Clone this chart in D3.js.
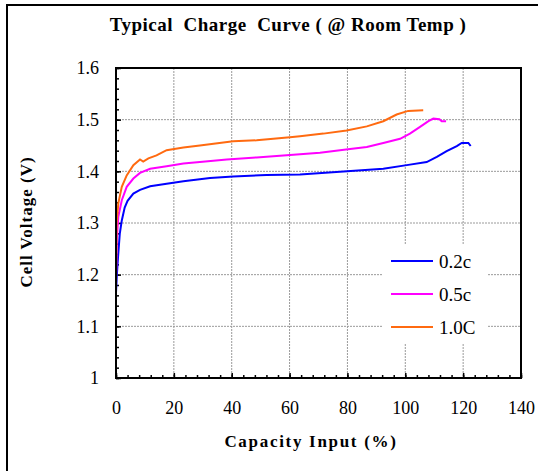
<!DOCTYPE html>
<html>
<head>
<meta charset="utf-8">
<script src="https://cdn.jsdelivr.net/npm/d3@7"></script>
<style>
  body { margin: 0; background: #fff; }
  svg text { font-family: "Liberation Serif", "Times New Roman", serif !important; fill: #000; }
  .axis path { display: none; }
  .axis line { stroke: #000; stroke-width: 1.5; }
  .grid line { stroke: #9a9a9a; stroke-width: 1; stroke-dasharray: 2,1; }
</style>
</head>
<body>
<div class="chart"></div>
<script>
// DATA ------------------------------
const seriesNames = ["0.2c", "0.5c", "1.0C"];
const seriesColors = ["#0000ff", "#ff00ff", "#ff6a10"];

const cap02 = [0, 0.3, 0.7, 1.3, 2, 3, 4, 6, 8.3, 11.8, 17.5, 23.3, 32.5, 40.5, 52, 63.6, 77.4, 92.4, 100.5, 107.4, 110.9, 114.3, 117.8, 119.5, 121.8, 122.6];
const volt02 = [1.165, 1.2, 1.234, 1.279, 1.305, 1.33, 1.343, 1.357, 1.364, 1.371, 1.376, 1.381, 1.387, 1.39, 1.393, 1.394, 1.399, 1.405, 1.412, 1.418, 1.428, 1.439, 1.449, 1.455, 1.455, 1.449];

const cap05 = [0, 0.3, 0.8, 2, 3.7, 6, 8.3, 11.8, 17.5, 23.3, 29, 38.3, 48.6, 56.7, 63.6, 70.5, 80.9, 86.7, 92.4, 98.2, 101.6, 105.1, 108, 109.7, 111.8, 112.6, 114.1];
const volt05 = [1.2, 1.27, 1.312, 1.344, 1.37, 1.386, 1.397, 1.405, 1.41, 1.415, 1.418, 1.423, 1.427, 1.43, 1.433, 1.436, 1.443, 1.447, 1.455, 1.463, 1.473, 1.486, 1.497, 1.502, 1.501, 1.497, 1.497];

const cap10 = [0, 0.2, 0.8, 2, 3.7, 6, 8.3, 9.4, 11.2, 14, 17.5, 23.3, 29, 40.5, 48.6, 54.4, 60.1, 63.6, 71.7, 79.7, 86.7, 92.4, 97, 101, 106.2];
const volt10 = [1.175, 1.3, 1.338, 1.37, 1.392, 1.412, 1.423, 1.419, 1.425, 1.431, 1.441, 1.446, 1.45, 1.458, 1.46, 1.463, 1.466, 1.468, 1.473, 1.479, 1.487, 1.497, 1.51, 1.517, 1.518];

const xTicks = [0, 20, 40, 60, 80, 100, 120, 140];
const yTicks = [1, 1.1, 1.2, 1.3, 1.4, 1.5, 1.6];
const yTickLabels = ["1", "1.1", "1.2", "1.3", "1.4", "1.5", "1.6"];

// CHART INIT ------------------------------
const W = 538, H = 471;
const margin = ({top: 68, right: 17, bottom: 93, left: 116});
const width = W - margin.left - margin.right,
    height = H - margin.top - margin.bottom;
const serif = '"Liberation Serif", "Times New Roman", serif';

const root = d3.select(".chart")
    .append("svg")
    .attr("width", W)
    .attr("height", H)
    .attr("font-family", serif);

// outer frame (cut off on the right and bottom)
root.append("rect")
    .attr("x", 7).attr("y", 5)
    .attr("width", 700).attr("height", 700)
    .attr("fill", "none")
    .attr("stroke", "#000")
    .attr("stroke-width", 2);

root.append("text")
    .attr("x", 288)
    .attr("y", 31)
    .attr("text-anchor", "middle")
    .style("font-size", "19px")
    .style("font-weight", "bold")
    .style("white-space", "pre")
    .style("letter-spacing", "0.5px")
    .text("Typical  Charge  Curve ( @ Room Temp )");

const svg = root.append("g")
    .attr("transform", "translate(" + margin.left + "," + margin.top + ")");

const xScale = d3.scaleLinear().domain([0, 140]).range([0, width]);
const yScale = d3.scaleLinear().domain([1, 1.6]).range([height, 0]);

// gridlines
svg.append("g")
    .attr("class", "grid")
    .selectAll("line")
    .data(xTicks.slice(1, -1))
    .join("line")
    .attr("x1", d => xScale(d)).attr("x2", d => xScale(d))
    .attr("y1", 0).attr("y2", height);

svg.append("g")
    .attr("class", "grid")
    .selectAll("line")
    .data(yTicks.slice(1, -1))
    .join("line")
    .attr("x1", 0).attr("x2", width)
    .attr("y1", d => yScale(d)).attr("y2", d => yScale(d));

// minor ticks
const xMinor = d3.range(0, 141, 4);
const yMinor = d3.range(0, 31).map(i => 1 + i * 0.02);

svg.append("g")
    .attr("class", "axis")
    .attr("transform", "translate(0," + height + ")")
    .call(d3.axisBottom(xScale).tickValues(xMinor).tickSize(-3).tickFormat(""));

svg.append("g")
    .attr("class", "axis")
    .call(d3.axisLeft(yScale).tickValues(yMinor).tickSize(-3).tickFormat(""));

// major axes
svg.append("g")
    .attr("class", "axis x-axis")
    .attr("transform", "translate(0," + height + ")")
    .call(d3.axisBottom(xScale).tickValues(xTicks).tickSize(-5).tickPadding(23))
    .attr("font-family", serif)
    .selectAll("text")
    .style("font-size", "18px");

svg.append("g")
    .attr("class", "axis y-axis")
    .call(d3.axisLeft(yScale).tickValues(yTicks).tickSize(-5).tickPadding(17)
        .tickFormat((d, i) => yTickLabels[i]))
    .attr("font-family", serif)
    .selectAll("text")
    .style("font-size", "18px");

// curves
const series = [
    {name: seriesNames[0], color: seriesColors[0], x: cap02, y: volt02},
    {name: seriesNames[1], color: seriesColors[1], x: cap05, y: volt05},
    {name: seriesNames[2], color: seriesColors[2], x: cap10, y: volt10}
];

const line = d3.line()
    .x(d => xScale(d[0]))
    .y(d => yScale(d[1]));

svg.selectAll(".curve")
    .data(series)
    .join("path")
    .attr("class", "curve")
    .attr("fill", "none")
    .attr("stroke", d => d.color)
    .attr("stroke-width", 2)
    .attr("d", d => line(d.x.map((v, i) => [v, d.y[i]])));

// plot frame
svg.append("rect")
    .attr("width", width)
    .attr("height", height)
    .attr("fill", "none")
    .attr("stroke", "#000")
    .attr("stroke-width", 2);

// legend
const legend = root.append("g")
    .attr("transform", "translate(383,245)");

legend.append("rect")
    .attr("width", 104)
    .attr("height", 98)
    .attr("fill", "#fff");

const items = legend.selectAll(".item")
    .data(series)
    .join("g")
    .attr("class", "item")
    .attr("transform", (d, i) => "translate(0," + (16 + i * 33) + ")");

items.append("line")
    .attr("x1", 8).attr("x2", 50)
    .attr("stroke", d => d.color)
    .attr("stroke-width", 2);

items.append("text")
    .attr("x", 56)
    .attr("dy", "0.35em")
    .style("font-size", "19px")
    .text(d => d.name);

// axis titles
root.append("text")
    .attr("x", 311)
    .attr("y", 447)
    .attr("text-anchor", "middle")
    .style("font-size", "17px")
    .style("font-weight", "bold")
    .style("letter-spacing", "1.7px")
    .text("Capacity Input (%)");

root.append("text")
    .attr("transform", "translate(32,222) rotate(-90)")
    .attr("text-anchor", "middle")
    .style("font-size", "17px")
    .style("font-weight", "bold")
    .style("letter-spacing", "1px")
    .text("Cell Voltage (V)");
</script>
</body>
</html>
